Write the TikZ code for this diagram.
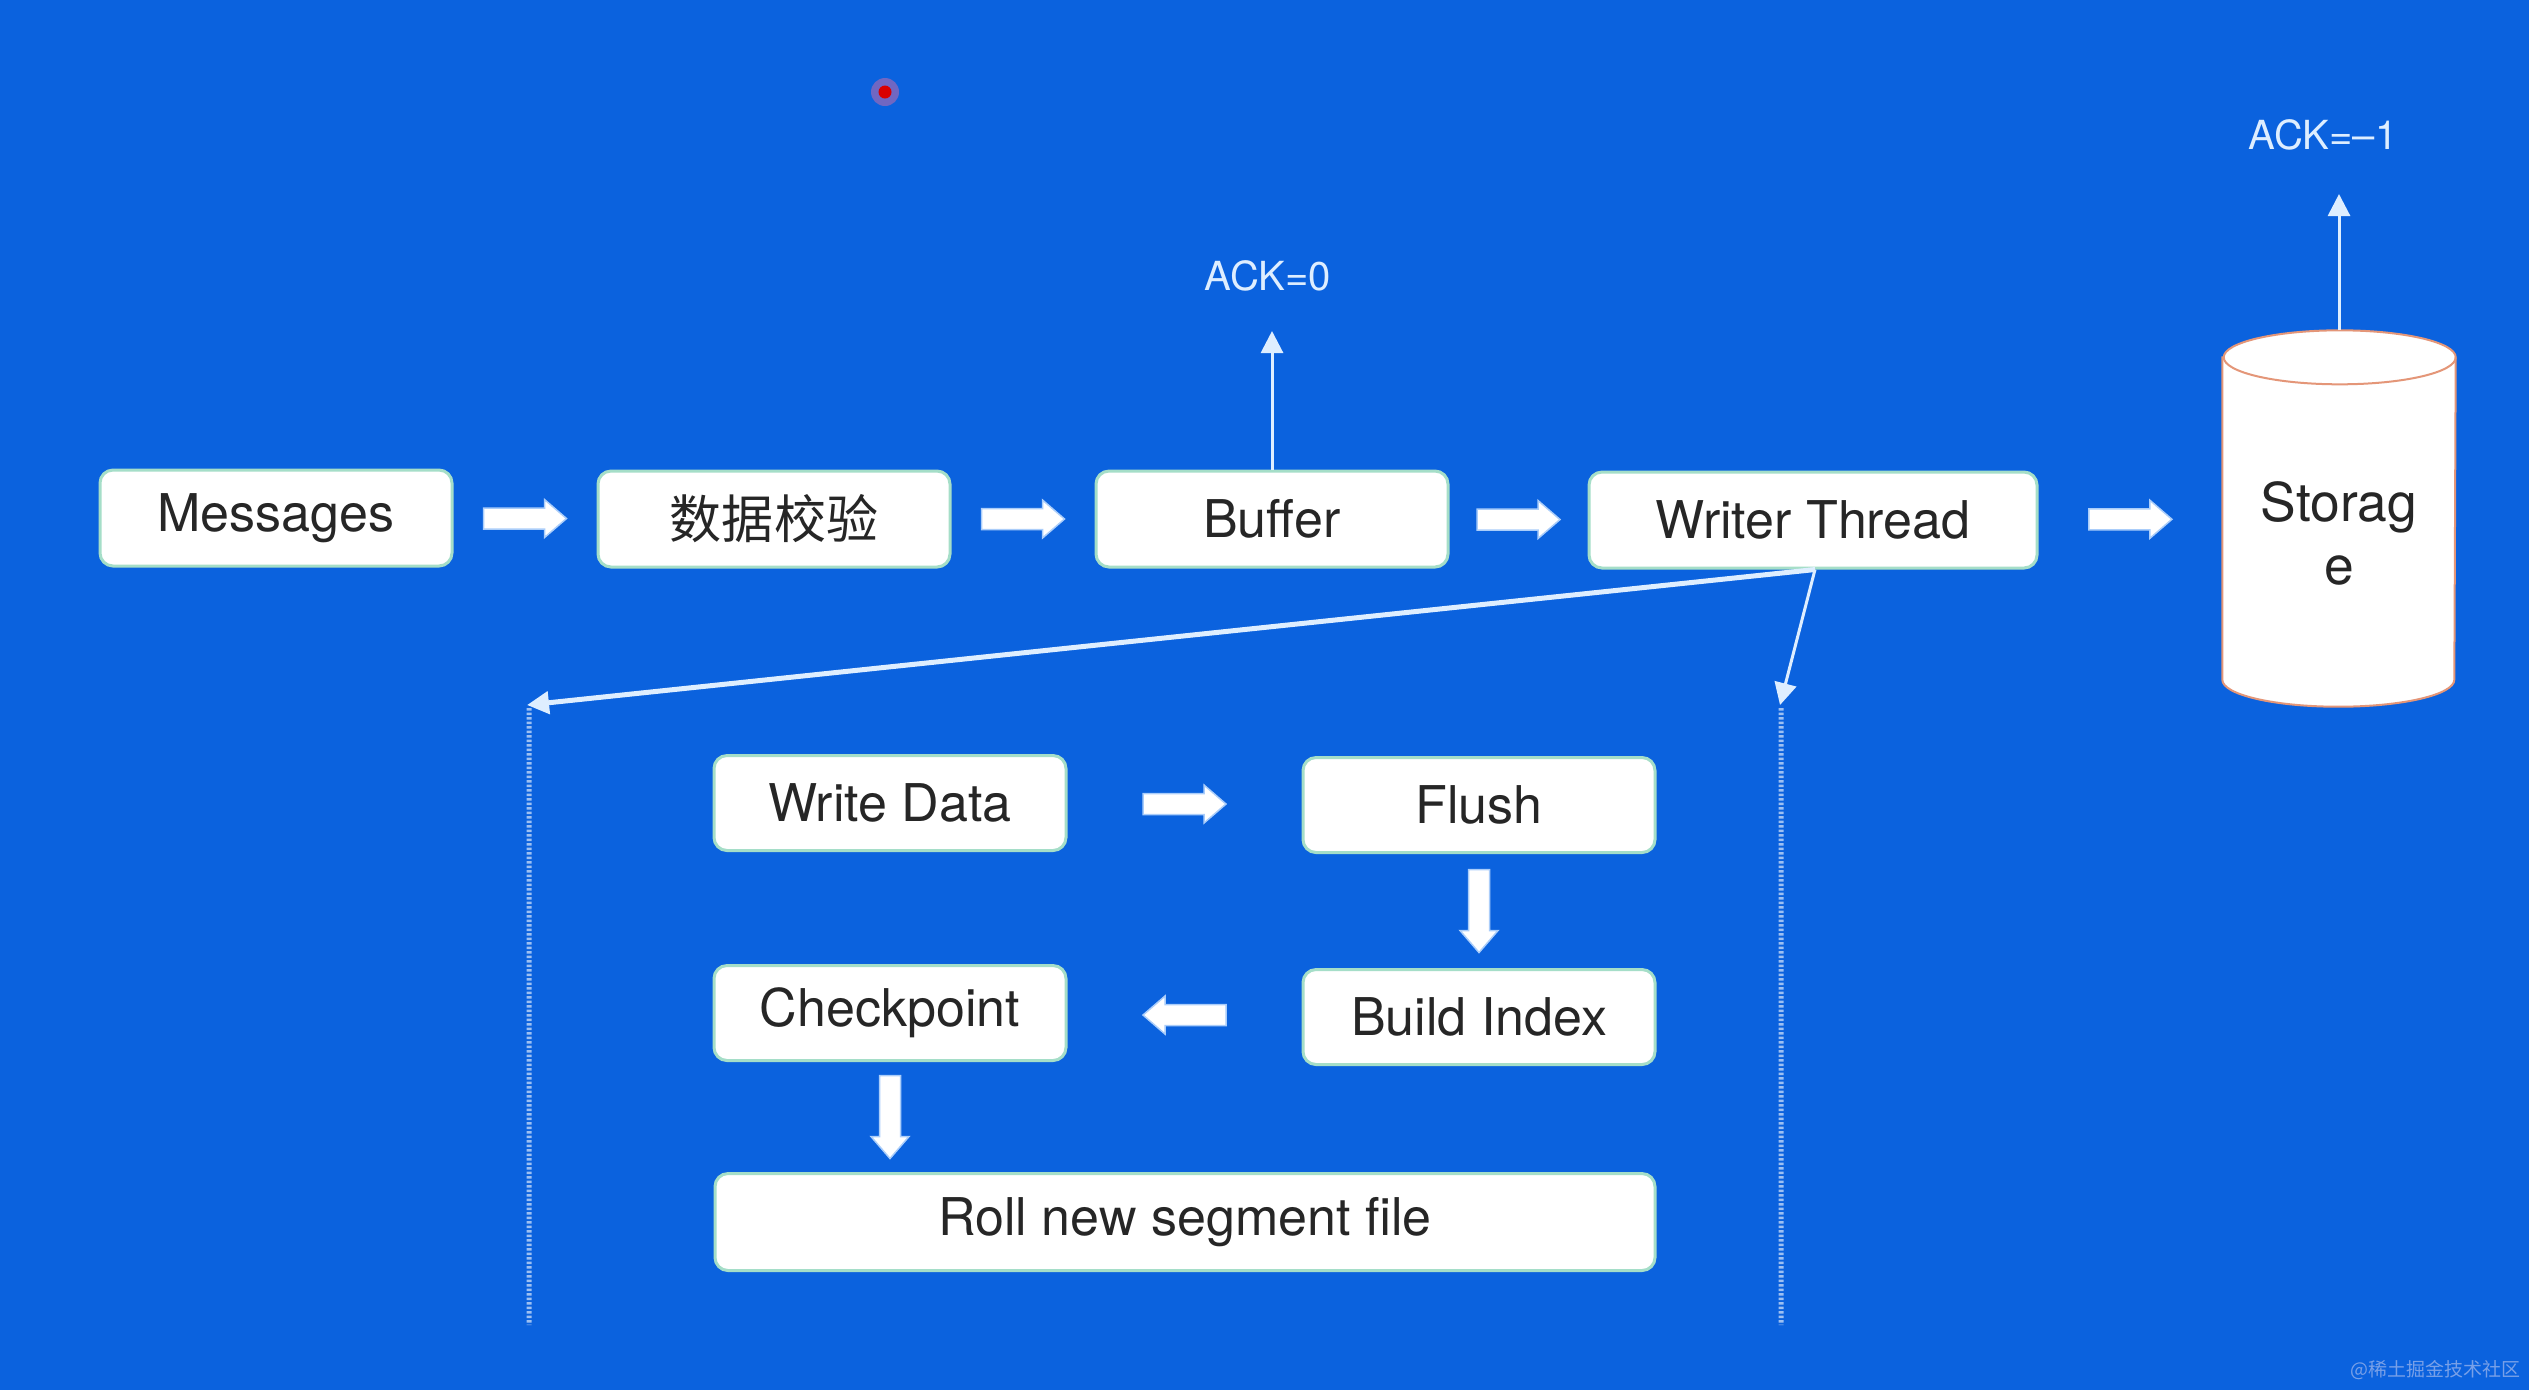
\documentclass[tikz,border=0pt]{standalone}
\usepackage{fontspec}
\setmainfont{TeX Gyre Heros}
\newfontfamily\cjk{Noto Sans CJK SC}
\usetikzlibrary{arrows.meta,calc}
\definecolor{bg}{RGB}{11,98,222}
\definecolor{boxedge}{RGB}{165,222,200}
\definecolor{arrowedge}{RGB}{170,205,250}
\definecolor{lightline}{RGB}{222,238,255}
\definecolor{cyledge}{RGB}{228,150,120}
\definecolor{wm}{RGB}{120,160,232}
\definecolor{halo}{RGB}{235,110,160}
\tikzset{
  box/.style={draw=boxedge, line width=0.03cm, fill=white, rounded corners=0.13cm,
    minimum width=3.52cm, minimum height=0.96cm, inner sep=0pt,
    font=\fontsize{14.8}{17}\selectfont, text=black!85},
  acktxt/.style={text=lightline, font=\fontsize{11.4}{13}\selectfont, inner sep=0pt},
  ackarrow/.style={draw=lightline, line width=0.03cm, -{Triangle[width=0.22cm,length=0.22cm]}},
  splitline/.style={draw=lightline, -{Triangle[width=0.22cm,length=0.22cm]}},
  dotline/.style={draw=white!60!bg, line width=0.05cm, dash pattern=on 0.025cm off 0.02cm},
  barrow/.pic={\filldraw[fill=white, draw=arrowedge, line width=0.015cm]
    (-0.415,-0.105) -- (0.195,-0.105) -- (0.195,-0.19) -- (0.415,0) -- (0.195,0.19)
    -- (0.195,0.105) -- (-0.415,0.105) -- cycle;}
}
\begin{document}
\begin{tikzpicture}[x=1cm,y=1cm]
\fill[bg] (0,0) rectangle (25.29,-13.90);
\useasboundingbox (0,0) rectangle (25.29,-13.90);

% red pointer dot
\fill[halo, opacity=0.45] (8.85,-0.92) circle (0.14);
\fill[red!85!black] (8.85,-0.92) circle (0.065);

% top row
\node[box] (msg) at (2.76,-5.18) {Messages};
\node[box] (chk) at (7.74,-5.19) {\cjk 数据校验};
\node[box] (buf) at (12.72,-5.19) {Buffer};
\node[box, minimum width=4.48cm] (wt) at (18.13,-5.20) {Writer Thread};

% storage cylinder
\node[minimum width=2.32cm, minimum height=3.75cm, inner sep=0pt] (sto) at (23.39,-5.185) {};
\filldraw[fill=white, draw=cyledge, line width=0.02cm]
  ($(sto.north west)+(0,-0.27)$) -- ($(sto.south west)+(0,0.27)$)
  arc[start angle=180, end angle=360, x radius=1.16cm, y radius=0.27cm]
  -- ($(sto.north east)+(0,-0.27)$)
  arc[start angle=0, end angle=180, x radius=1.16cm, y radius=0.27cm] -- cycle;
\draw[cyledge, line width=0.02cm] ($(sto.north east)+(0,-0.27)$)
  arc[start angle=0, end angle=-180, x radius=1.16cm, y radius=0.27cm];
\node[align=center, text=black!85, font=\fontsize{15.2}{18}\selectfont, inner sep=0pt]
  (stotxt) at ($(sto.center)+(0,-0.15)$) {Storag\\e};

% block arrows top row
\pic at ($(msg.east)!0.5!(chk.west)$) {barrow};
\pic at ($(chk.east)!0.5!(buf.west)$) {barrow};
\pic at ($(buf.east)!0.5!(wt.west)$) {barrow};
\pic at ($(wt.east)!0.5!(sto.west)$) {barrow};

% ACK labels
\node[acktxt] (ack0) at (12.68,-2.76) {ACK=0};
\coordinate (ack0tip) at (12.72,-3.31);
\draw[ackarrow] (buf.north) -- (ack0tip);
\node[acktxt] (ack1) at (23.23,-1.35) {ACK=--1};
\coordinate (ack1tip) at (23.39,-1.94);
\draw[ackarrow] (sto.north) -- (ack1tip);

% writer thread split
\coordinate (wto) at ($(wt.south)+(0.02,0)$);
\coordinate (lt) at (5.27,-7.05);
\coordinate (rt) at (17.80,-7.05);
\coordinate (lb) at (5.29,-13.25);
\coordinate (rb) at (17.81,-13.25);
\draw[splitline, line width=0.05cm] (wto) -- (lt);
\draw[splitline, line width=0.03cm] (wto) -- (rt);
\draw[dotline] ($(lt)+(0.02,-0.03)$) -- (lb);
\draw[dotline] ($(rt)+(0.01,-0.03)$) -- (rb);

% lower process
\node[box, minimum height=0.95cm] (wd) at (8.90,-8.03) {Write Data};
\node[box, minimum height=0.95cm] (fl) at (14.79,-8.05) {Flush};
\node[box, minimum height=0.95cm] (cp) at (8.90,-10.13) {Checkpoint};
\node[box, minimum height=0.95cm] (bi) at (14.79,-10.17) {Build Index};
\node[box, minimum width=9.40cm, minimum height=0.97cm] (roll) at (11.85,-12.22) {Roll new segment file};

\pic at ($(wd.east)!0.5!(fl.west)$) {barrow};
\pic[rotate=-90] at ($(fl.south)!0.5!(bi.north)$) {barrow};
\pic[rotate=180] at ($(bi.west)!0.5!(cp.east)$) {barrow};
\pic[rotate=-90] at ($(cp.south)!0.5!(cp.south |- roll.north)$) {barrow};

% watermark
\node[anchor=east, text=wm, font=\cjk\fontsize{5.4}{6}\selectfont, inner sep=0pt] (wmk) at (25.21,-13.70) {@稀土掘金技术社区};
\end{tikzpicture}
\end{document}
